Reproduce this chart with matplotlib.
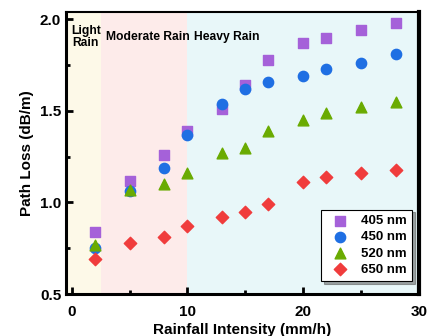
import matplotlib
matplotlib.use('Agg')
from matplotlib import pyplot as plt
from matplotlib.ticker import MultipleLocator

#---------------------- DATA
rain = [2, 5, 8, 10, 13, 15, 17, 20, 22, 25, 28]
loss_405 = [0.84, 1.12, 1.26, 1.39, 1.51, 1.64, 1.78, 1.87, 1.90, 1.94, 1.98]
loss_450 = [0.75, 1.06, 1.19, 1.37, 1.54, 1.62, 1.66, 1.69, 1.73, 1.76, 1.81]
loss_520 = [0.77, 1.07, 1.10, 1.16, 1.27, 1.30, 1.39, 1.45, 1.49, 1.52, 1.55]
loss_650 = [0.69, 0.78, 0.81, 0.87, 0.92, 0.95, 0.99, 1.11, 1.14, 1.16, 1.18]

regions = [(-0.5, 2.5, '#fdf9e8'), (2.5, 10, '#fdebea'), (10, 30, '#e8f7f9')]

plt.rcParams['font.family'] = ['Liberation Sans', 'DejaVu Sans']
plt.rcParams['font.weight'] = 'bold'

fig = plt.figure(figsize=(4.3, 3.36), dpi=100)
ax = fig.add_axes([0.1535, 0.125, 0.8205, 0.839])

for x0, x1, c in regions:
    ax.axvspan(x0, x1, color=c, lw=0, zorder=0)

ax.scatter(rain, loss_405, marker='s', s=42, color='#a561d9', label='405 nm', zorder=3)
ax.scatter(rain, loss_450, marker='o', s=55, color='#1f6fe3', label='450 nm', zorder=3)
ax.scatter(rain, loss_520, marker='^', s=60, color='#6aab02', label='520 nm', zorder=3)
ax.scatter(rain, loss_650, marker='D', s=40, color='#f03c3c', label='650 nm', zorder=3)

ax.text(1.2, 1.905, 'Light\nRain', ha='center', va='center', fontsize=8.7, fontweight='bold', linespacing=1.05)
ax.text(2.95, 1.905, 'Moderate Rain', ha='left', va='center', fontsize=8.7, fontweight='bold')
ax.text(10.6, 1.905, 'Heavy Rain', ha='left', va='center', fontsize=8.7, fontweight='bold')

ax.set_xlim(-0.5, 30)
ax.set_ylim(0.5, 2.04)
ax.xaxis.set_major_locator(MultipleLocator(10))
ax.xaxis.set_minor_locator(MultipleLocator(5))
ax.yaxis.set_major_locator(MultipleLocator(0.5))
ax.yaxis.set_minor_locator(MultipleLocator(0.25))
ax.tick_params(which='both', direction='in', width=2, labelsize=11)
ax.tick_params(which='major', length=5)
ax.tick_params(which='minor', length=3)
ax.tick_params(axis='x', which='major', pad=8)
ax.tick_params(top=False, right=False)
for lab in ax.get_xticklabels() + ax.get_yticklabels():
    lab.set_fontweight('bold')

for side in ['left', 'bottom']:
    ax.spines[side].set_linewidth(2.2)
ax.spines['right'].set_linewidth(3)
ax.spines['top'].set_linewidth(1.5)

ax.set_xlabel('Rainfall Intensity (mm/h)', fontsize=11, fontweight='bold', labelpad=3)
ax.set_ylabel('Path Loss (dB/m)', fontsize=11, fontweight='bold', labelpad=4)

leg = ax.legend(loc='lower right', fontsize=9.5, frameon=True, fancybox=False, shadow=True,
                edgecolor='black', framealpha=1, handletextpad=0.6, borderpad=0.4,
                labelspacing=0.3, borderaxespad=0, bbox_to_anchor=(0.98, 0.046))
leg.get_frame().set_linewidth(0.8)
for t in leg.get_texts():
    t.set_fontweight('bold')

plt.savefig('out.png', dpi=100)
